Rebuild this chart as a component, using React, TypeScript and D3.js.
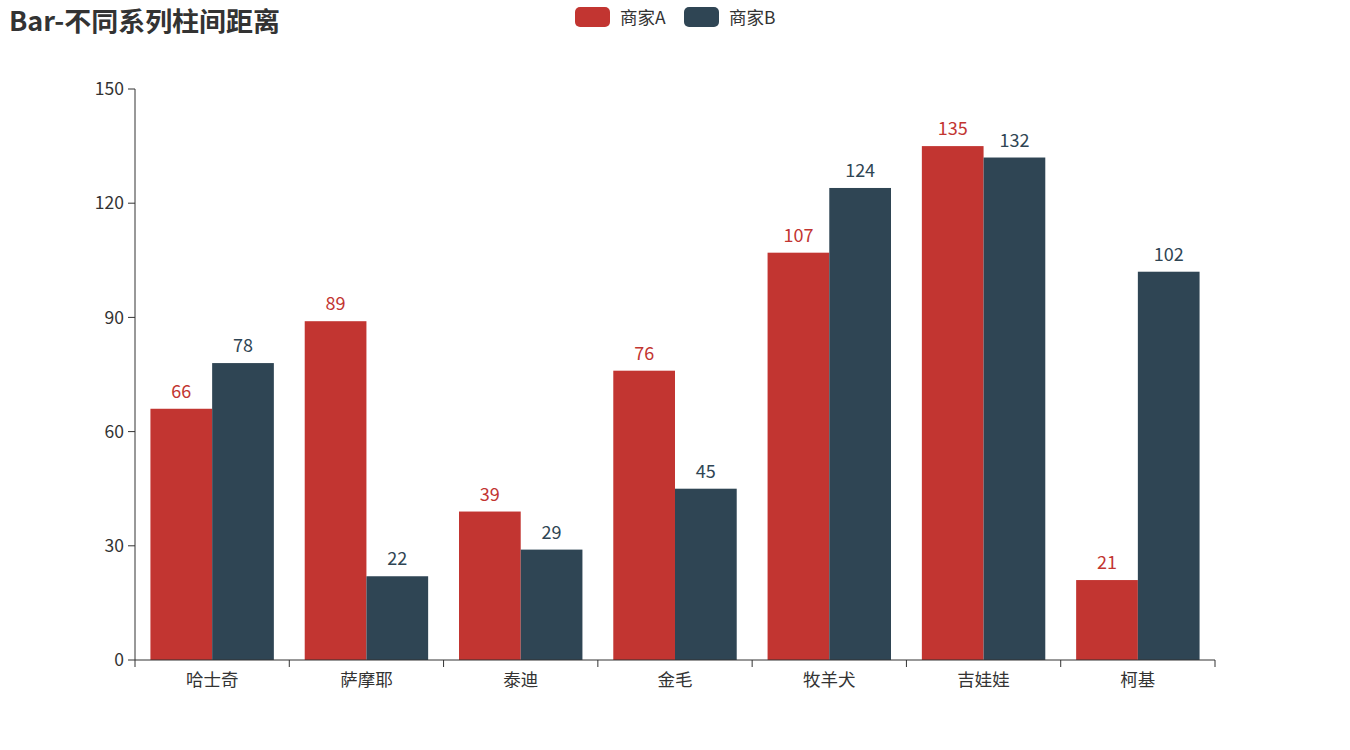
import React from "react";
import * as d3 from "d3";

const categories = ["哈士奇", "萨摩耶", "泰迪", "金毛", "牧羊犬", "吉娃娃", "柯基"];
const seriesA = [66, 89, 39, 76, 107, 135, 21];
const seriesB = [78, 22, 29, 45, 124, 132, 102];
const seriesNames = ["商家A", "商家B"];
const yTicks = [0, 30, 60, 90, 120, 150];
const colors = ["#c23531", "#2f4554"];

const W = 1350, H = 750;
const left = 135, right = 1215, top = 89, bottom = 660;
const FONT = "'Microsoft YaHei', 'Noto Sans CJK SC', sans-serif";

export default function App() {
  const x = d3.scaleBand<string>().domain(categories).range([left, right]).paddingInner(0).paddingOuter(0);
  const y = d3.scaleLinear().domain([0, 150]).range([bottom, top]);
  const bw = x.bandwidth();
  const barW = bw * 0.4;
  const data = [seriesA, seriesB];
  return (
    <svg width={W} height={H} style={{ position: "absolute", left: 0, top: 0 }} fontFamily={FONT}>
      <rect width={W} height={H} fill="#fff" />
      <text x={9} y={31} fontSize={26.5} fontWeight="bold" fill="#333" textLength={271} lengthAdjust="spacingAndGlyphs">Bar-不同系列柱间距离</text>
      {seriesNames.map((n, i) => {
        const lx = 575 + i * 109;
        return (
          <g key={n}>
            <rect x={lx} y={7} width={35} height={20} rx={5} fill={colors[i]} />
            <text x={lx + 45} y={23.5} fontSize={17.5} fill="#333">{n}</text>
          </g>
        );
      })}
      {/* y axis */}
      <line x1={left} x2={left} y1={top} y2={bottom} stroke="#333" />
      {yTicks.map((t) => (
        <g key={t}>
          <line x1={left - 7} x2={left} y1={y(t)} y2={y(t)} stroke="#333" />
          <text x={left - 11} y={y(t)} dy="0.35em" textAnchor="end" fontSize={17.5} fill="#333">{t}</text>
        </g>
      ))}
      {/* bars */}
      {data.map((s, si) =>
        s.map((v, ci) => {
          const bx = (x(categories[ci]) as number) + bw * 0.1 + si * barW;
          return (
            <g key={si + "-" + ci}>
              <rect x={bx} y={y(v)} width={barW} height={bottom - y(v)} fill={colors[si]} />
              <text x={bx + barW / 2} y={y(v) - 11} textAnchor="middle" fontSize={18} fill={colors[si]}>{v}</text>
            </g>
          );
        })
      )}
      {/* x axis */}
      <line x1={left} x2={right} y1={bottom} y2={bottom} stroke="#333" />
      {[...categories.map((c) => x(c) as number), right].map((px, i) => (
        <line key={i} x1={px} x2={px} y1={bottom} y2={bottom + 7} stroke="#333" />
      ))}
      {categories.map((c) => (
        <text key={c} x={(x(c) as number) + bw / 2} y={686} textAnchor="middle" fontSize={17.5} fill="#333">{c}</text>
      ))}
    </svg>
  );
}
